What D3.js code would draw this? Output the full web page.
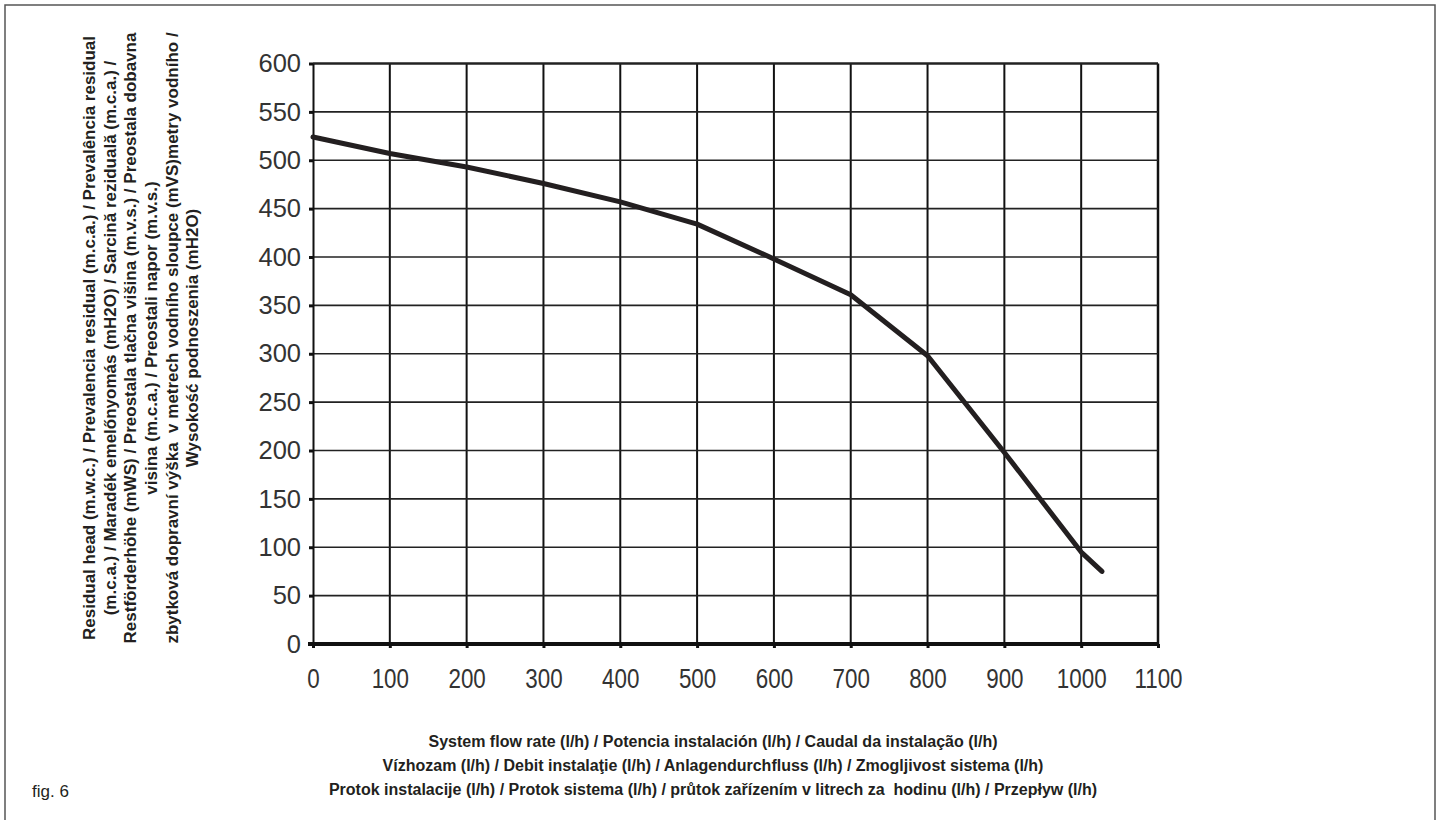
<!DOCTYPE html>
<html>
<head>
<meta charset="utf-8">
<script src="https://cdn.jsdelivr.net/npm/d3@7"></script>
<style>
  html, body { margin: 0; padding: 0; background: #fff; }
  svg { display: block; }
  .title { font-family: "Liberation Sans", Arial, sans-serif; font-weight: bold; fill: #231f20; white-space: pre; }
</style>
</head>
<body>
<svg id="chart"></svg>
<script>
// flow rate (l/h) and residual head
const flow = [0, 100, 200, 300, 400, 500, 600, 700, 800, 900, 1000, 1027];
const head = [524, 507, 493, 476, 457, 434, 398, 361, 298, 198, 95, 75];

const xTicks = [0, 100, 200, 300, 400, 500, 600, 700, 800, 900, 1000, 1100];
const yTicks = [0, 50, 100, 150, 200, 250, 300, 350, 400, 450, 500, 550, 600];

const yTitleLines = [
  "Residual head (m.w.c.) / Prevalencia residual (m.c.a.) / Prevalência residual",
  "(m.c.a.) / Maradék emelőnyomás (mH2O) / Sarcină reziduală (m.c.a.) /",
  "Restförderhöhe (mWS) / Preostala tlačna višina (m.v.s.) / Preostala dobavna",
  "visina (m.c.a.) / Preostali napor (m.v.s.)",
  "zbytková dopravní výška  v metrech vodního sloupce (mVS)metry vodního /",
  "Wysokość podnoszenia (mH2O)"
];
const xTitleLines = [
  "System flow rate (l/h) / Potencia instalación (l/h) / Caudal da instalação (l/h)",
  "Vízhozam (l/h) / Debit instalaţie (l/h) / Anlagendurchfluss (l/h) / Zmogljivost sistema (l/h)",
  "Protok instalacije (l/h) / Protok sistema (l/h) / průtok zařízením v litrech za  hodinu (l/h) / Przepływ (l/h)"
];

const width = 1440, height = 820;
const margin = { top: 63.5, right: 282, bottom: 176, left: 313 };

const svg = d3.select("#chart").attr("width", width).attr("height", height);

// page frame
svg.append("rect")
  .attr("x", 5).attr("y", 5)
  .attr("width", 1430).attr("height", 840)
  .attr("fill", "none").attr("stroke", "#555").attr("stroke-width", 1.5);

const x = d3.scaleLinear().domain([0, 1100]).range([margin.left, width - margin.right]);
const y = d3.scaleLinear().domain([0, 600]).range([height - margin.bottom, margin.top]);

const grid = svg.append("g");

// vertical grid
grid.selectAll("line.v")
  .data(xTicks.slice(1))
  .join("line")
  .attr("class", "v")
  .attr("x1", d => x(d)).attr("x2", d => x(d))
  .attr("y1", y(600)).attr("y2", y(0))
  .attr("stroke", "#111")
  .attr("stroke-width", d => d === 1100 ? 2.5 : 2);

// horizontal grid
grid.selectAll("line.h")
  .data(yTicks.slice(1))
  .join("line")
  .attr("class", "h")
  .attr("x1", x(0)).attr("x2", x(1100))
  .attr("y1", d => y(d)).attr("y2", d => y(d))
  .attr("stroke", "#222")
  .attr("stroke-width", d => d === 600 ? 2.5 : 1.6);

// left axis
const yAxis = svg.append("g")
  .attr("transform", `translate(${x(0)},0)`)
  .call(d3.axisLeft(y).tickValues(yTicks).tickSize(4).tickPadding(8).tickSizeOuter(0).tickFormat(d3.format("d")));
yAxis.select(".domain").attr("stroke", "#111").attr("stroke-width", 2);
yAxis.selectAll(".tick line").attr("stroke", "#111").attr("stroke-width", 3);
yAxis.selectAll(".tick text")
  .attr("fill", "#333")
  .style("font-family", "'Liberation Sans', Arial, sans-serif")
  .style("font-size", "25.5px");

// bottom axis
const xAxis = svg.append("g")
  .attr("transform", `translate(0,${y(0)})`)
  .call(d3.axisBottom(x).tickValues(xTicks).tickSize(4).tickPadding(20).tickSizeOuter(0).tickFormat(d3.format("d")));
xAxis.select(".domain").attr("stroke", "#111").attr("stroke-width", 4)
  .attr("d", `M${x(0) - 5},0H${x(1100)}`);
xAxis.selectAll(".tick line").attr("stroke", "#111").attr("stroke-width", 3);
xAxis.selectAll(".tick text")
  .attr("fill", "#333")
  .attr("transform", "scale(0.8,1)")
  .style("font-family", "'Liberation Sans', Arial, sans-serif")
  .style("font-size", "28px");

// curve
const line = d3.line().x(d => x(d[0])).y(d => y(d[1]));
svg.append("path")
  .datum(flow.map((f, i) => [f, head[i]]))
  .attr("d", line)
  .attr("fill", "none")
  .attr("stroke", "#231f20")
  .attr("stroke-width", 5)
  .attr("stroke-linejoin", "round")
  .attr("stroke-linecap", "round");

// y title
const yTitle = svg.append("text")
  .attr("class", "title")
  .attr("transform", "translate(89,338) rotate(-90)")
  .attr("text-anchor", "middle")
  .style("font-size", "17px");
yTitle.selectAll("tspan")
  .data(yTitleLines)
  .join("tspan")
  .attr("x", 0)
  .attr("dy", (d, i) => i === 0 ? "0.35em" : "20.7px")
  .text(d => d);

// x title
const xTitle = svg.append("text")
  .attr("class", "title")
  .attr("transform", "translate(713,747)")
  .attr("text-anchor", "middle")
  .style("font-size", "16px");
xTitle.selectAll("tspan")
  .data(xTitleLines)
  .join("tspan")
  .attr("x", 0)
  .attr("dy", (d, i) => i === 0 ? 0 : "24px")
  .text(d => d);

svg.append("text")
  .attr("x", 32).attr("y", 797)
  .attr("fill", "#231f20")
  .style("font-family", "'Liberation Sans', Arial, sans-serif")
  .style("font-size", "17px")
  .text("fig. 6");
</script>
</body>
</html>
